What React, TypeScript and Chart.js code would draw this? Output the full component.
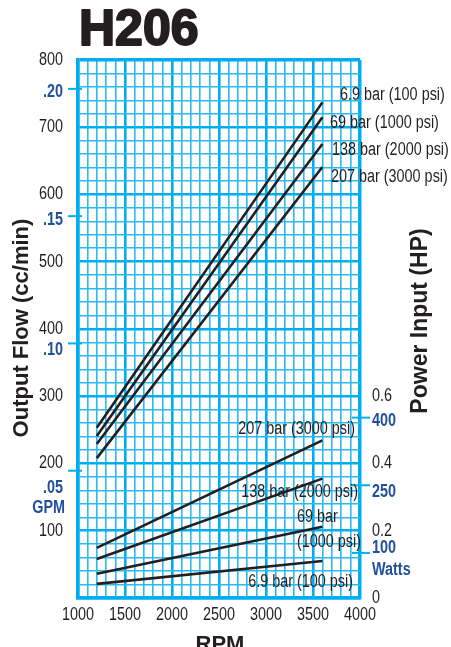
import React, { useEffect, useRef } from 'react';
import { Chart, registerables } from 'chart.js';

Chart.register(...registerables);

// ---------- data ----------
const rpm = [1200, 3600];
const pressureLabels = ['6.9 bar (100 psi)', '69 bar (1000 psi)', '138 bar (2000 psi)', '207 bar (3000 psi)'];

// Output flow (cc/min) at rpm[0], rpm[1]
const flow_6_9bar = [253, 737];
const flow_69bar = [241, 715];
const flow_138bar = [229, 675];
const flow_207bar = [208, 641];

// Power input (HP) at rpm[0], rpm[1]
const power_6_9bar = [0.042, 0.11];
const power_69bar = [0.072, 0.212];
const power_138bar = [0.116, 0.355];
const power_207bar = [0.149, 0.469];

// axes
const rpmMin = 1000;
const rpmMax = 4000;
const rpmLabelStep = 500;
const rpmGridStep = 100;
const flowMax = 800;
const flowLabelStep = 100;
const flowGridStep = 20;
const hpMax = 1.6;
const hpTicks = [0, 0.2, 0.4, 0.6];
const gpmTicks = [0.2, 0.15, 0.1, 0.05];
const wattTicks = [400, 250, 100];
const CC_PER_GAL = 3785.41;
const WATT_PER_HP = 745.7;

// ---------- style ----------
const INK = '#231f20';
const GRID = '#00aeef';
const GRID_MINOR = '#2cb9f0';
const BLUE = '#1f4f9d';
const SANS = '"Liberation Sans", Arial, Helvetica, sans-serif';
const NARROW_X = 0.8;
const gpmLabelShift = [3, 4, 7, 17];
const wattLabelShift = [3, 7, -5];

// line label anchors in data space (rpm, cc/min-equivalent), align
const lineLabelAnchors = [
  { text: pressureLabels[0], rpm: 3787, val: 748, align: 'left' },
  { text: pressureLabels[1], rpm: 3681, val: 706, align: 'left' },
  { text: pressureLabels[2], rpm: 3702, val: 666, align: 'left' },
  { text: pressureLabels[3], rpm: 3691, val: 626, align: 'left' },
  { text: pressureLabels[3], rpm: 3947, val: 251, align: 'right' },
  { text: pressureLabels[2], rpm: 3979, val: 158, align: 'right' },
  { text: '69 bar', rpm: 3330, val: 120, align: 'left' },
  { text: '(1000 psi)', rpm: 3330, val: 83, align: 'left' },
  { text: pressureLabels[0], rpm: 3926, val: 24, align: 'right' },
];

function range(a: number, b: number, s: number) {
  const out: number[] = [];
  for (let v = a; v <= b + 1e-9; v += s) out.push(Math.round(v * 1000) / 1000);
  return out;
}

function narrowText(ctx: CanvasRenderingContext2D, text: string, x: number, y: number, align: CanvasTextAlign) {
  ctx.save();
  ctx.translate(x, y);
  ctx.scale(NARROW_X, 1);
  ctx.textAlign = align;
  ctx.textBaseline = 'middle';
  ctx.fillText(text, 0, 0);
  ctx.restore();
}

const overlay = {
  id: 'overlay',
  afterDraw(chart: any) {
    const ctx = chart.ctx as CanvasRenderingContext2D;
    const { left, right, top, bottom } = chart.chartArea;
    const y = chart.scales.y;
    const y2 = chart.scales.y2;
    const x = chart.scales.x;
    ctx.save();

    // title
    ctx.fillStyle = INK;
    ctx.strokeStyle = INK;
    ctx.lineWidth = 2;
    ctx.lineJoin = 'round';
    ctx.font = `bold 50px ${SANS}`;
    ctx.textAlign = 'left';
    ctx.textBaseline = 'alphabetic';
    ctx.fillText('H206', left + 1, 45);
    ctx.strokeText('H206', left + 1, 45);

    // tick labels (scale-driven)
    ctx.fillStyle = INK;
    ctx.font = `18px ${SANS}`;
    x.ticks.forEach((t: any) => {
      if (t.value % rpmLabelStep === 0) narrowText(ctx, String(t.value), x.getPixelForValue(t.value), bottom + 17, 'center');
    });
    y.ticks.forEach((t: any) => {
      if (t.value % flowLabelStep === 0 && t.value > 0) narrowText(ctx, String(t.value), left - 15, y.getPixelForValue(t.value), 'right');
    });
    y2.ticks.forEach((t: any) => {
      narrowText(ctx, t.value === 0 ? '0' : t.value.toFixed(1), right + 12, y2.getPixelForValue(t.value), 'left');
    });

    // GPM ticks
    ctx.font = `bold 18px ${SANS}`;
    gpmTicks.forEach((g, i) => {
      const py = y.getPixelForValue(g * CC_PER_GAL);
      ctx.strokeStyle = GRID;
      ctx.lineWidth = 2;
      ctx.beginPath();
      ctx.moveTo(left - 10, py);
      ctx.lineTo(left + 4, py);
      ctx.stroke();
      ctx.fillStyle = BLUE;
      narrowText(ctx, g.toFixed(2).slice(1), left - 15, py + gpmLabelShift[i], 'right');
      if (i === gpmTicks.length - 1) {
        narrowText(ctx, 'GPM', left - 13, py + gpmLabelShift[i] + 20, 'right');
      }
    });

    // Watt ticks
    wattTicks.forEach((w, i) => {
      const py = y2.getPixelForValue(w / WATT_PER_HP);
      ctx.strokeStyle = GRID;
      ctx.lineWidth = 2;
      ctx.beginPath();
      ctx.moveTo(right - 8, py);
      ctx.lineTo(right + 10, py);
      ctx.stroke();
      ctx.fillStyle = BLUE;
      narrowText(ctx, String(w), right + 12, py + wattLabelShift[i], 'left');
      if (i === wattTicks.length - 1) {
        narrowText(ctx, 'Watts', right + 12, py + wattLabelShift[i] + 22, 'left');
      }
    });

    // line labels
    ctx.fillStyle = INK;
    ctx.font = `18px ${SANS}`;
    lineLabelAnchors.forEach((a) => {
      narrowText(ctx, a.text, x.getPixelForValue(a.rpm), y.getPixelForValue(a.val), a.align as CanvasTextAlign);
    });

    // axis titles
    ctx.font = `bold 22px ${SANS}`;
    ctx.textAlign = 'center';
    ctx.textBaseline = 'middle';
    ctx.save();
    ctx.translate(22, (top + bottom) / 2 - 1);
    ctx.rotate(-Math.PI / 2);
    ctx.fillText('Output Flow (cc/min)', 0, 0);
    ctx.restore();
    ctx.font = `bold 23px ${SANS}`;
    ctx.save();
    ctx.translate(421, 321);
    ctx.rotate(-Math.PI / 2);
    ctx.fillText('Power Input (HP)', 0, 0);
    ctx.restore();
    ctx.font = `bold 22px ${SANS}`;
    ctx.textBaseline = 'alphabetic';
    ctx.fillText('RPM', (left + right) / 2 + 1, 651);

    ctx.restore();
  },
};

export default function App() {
  const ref = useRef<HTMLCanvasElement | null>(null);
  useEffect(() => {
    if (!ref.current) return;
    const mk = (label: string, vals: number[], axis: string) => ({
      label,
      data: rpm.map((r, i) => ({ x: r, y: vals[i] })),
      yAxisID: axis,
      borderColor: INK,
      backgroundColor: INK,
      borderWidth: 2.6,
      pointRadius: 0,
      tension: 0,
    });
    const chart = new Chart(ref.current, {
      type: 'line',
      data: {
        datasets: [
          mk(pressureLabels[0], flow_6_9bar, 'y'),
          mk(pressureLabels[1], flow_69bar, 'y'),
          mk(pressureLabels[2], flow_138bar, 'y'),
          mk(pressureLabels[3], flow_207bar, 'y'),
          mk(pressureLabels[0], power_6_9bar, 'y2'),
          mk(pressureLabels[1], power_69bar, 'y2'),
          mk(pressureLabels[2], power_138bar, 'y2'),
          mk(pressureLabels[3], power_207bar, 'y2'),
        ],
      },
      options: {
        responsive: false,
        animation: false,
        devicePixelRatio: 1,
        layout: { padding: { top: 60, left: 0, right: 0, bottom: 0 } },
        plugins: { legend: { display: false }, tooltip: { enabled: false }, title: { display: false } },
        scales: {
          x: {
            type: 'linear',
            position: 'bottom',
            min: rpmMin,
            max: rpmMax,
            afterBuildTicks: (s: any) => {
              s.ticks = range(rpmMin, rpmMax, rpmGridStep).map((v) => ({ value: v }));
            },
            afterFit: (s: any) => {
              s.height = 49;
            },
            ticks: { display: false, autoSkip: false, maxRotation: 0, minRotation: 0 },
            grid: {
              color: (c: any) => (c.tick && c.tick.value % rpmLabelStep === 0 ? GRID : GRID_MINOR),
              drawTicks: false,
              lineWidth: (c: any) => {
                const v = c.tick ? c.tick.value : 0;
                if (v === rpmMin || v === rpmMax) return 3.5;
                return v % rpmLabelStep === 0 ? 2.6 : 1.6;
              },
            },
            border: { color: GRID, width: 3.5 },
          },
          y: {
            type: 'linear',
            position: 'left',
            min: 0,
            max: flowMax,
            afterBuildTicks: (s: any) => {
              s.ticks = range(0, flowMax, flowGridStep).map((v) => ({ value: v }));
            },
            afterFit: (s: any) => {
              s.width = 78;
            },
            ticks: { display: false, autoSkip: false },
            grid: {
              color: (c: any) => (c.tick && c.tick.value % flowLabelStep === 0 ? GRID : GRID_MINOR),
              drawTicks: false,
              lineWidth: (c: any) => {
                const v = c.tick ? c.tick.value : 0;
                if (v === 0 || v === flowMax) return 3.5;
                return v % flowLabelStep === 0 ? 2.6 : 1.6;
              },
            },
            border: { color: GRID, width: 3.5 },
          },
          y2: {
            type: 'linear',
            position: 'right',
            min: 0,
            max: hpMax,
            afterBuildTicks: (s: any) => {
              s.ticks = hpTicks.map((v) => ({ value: v }));
            },
            afterFit: (s: any) => {
              s.width = 91;
            },
            ticks: { display: false, autoSkip: false },
            grid: { display: false, drawTicks: false },
            border: { display: false },
          },
        },
      },
      plugins: [overlay],
    } as any);
    return () => chart.destroy();
  }, []);
  return (
    <div style={{ position: 'absolute', left: 0, top: 0, width: 451, height: 647, background: '#fff' }}>
      <canvas ref={ref} width={451} height={647} style={{ display: 'block', width: 451, height: 647 }} />
    </div>
  );
}
